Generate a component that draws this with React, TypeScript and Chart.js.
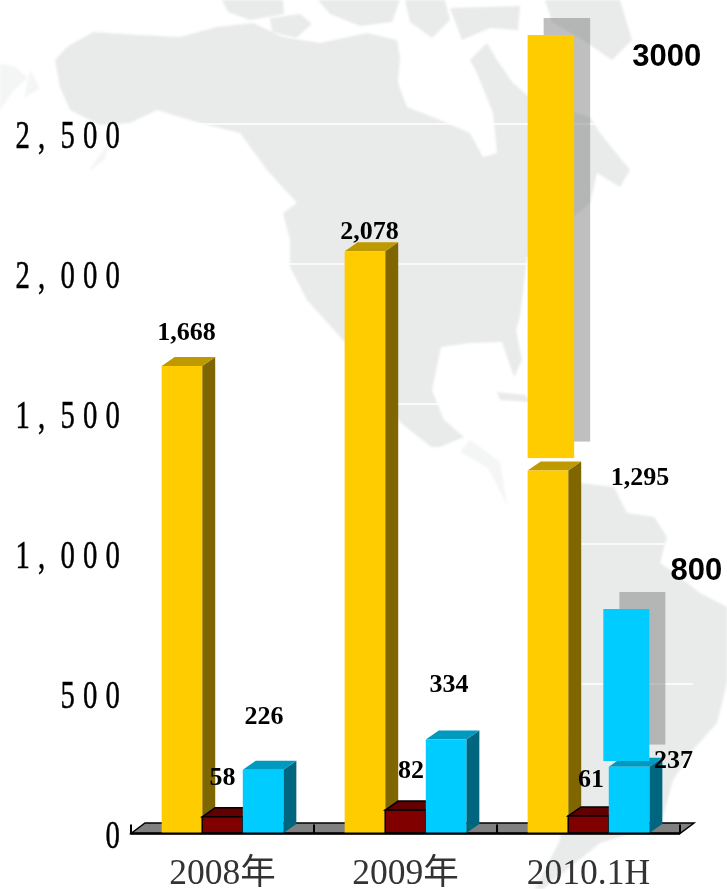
import React, { useEffect, useRef } from "react";
import { Chart, registerables } from "chart.js";

Chart.register(...registerables);

const categories = ["2008年", "2009年", "2010.1H"];
const goldValues = [1668, 2078, 1295];
const maroonValues = [58, 82, 61];
const cyanValues = [226, 334, 237];
const valueLabels = [
  ["1,668", "2,078", "1,295"],
  ["58", "82", "61"],
  ["226", "334", "237"],
];
const yTickValues = [0, 500, 1000, 1500, 2000, 2500];
const yTickLabels = ["0", "500", "1, 000", "1, 500", "2, 000", "2, 500"];
// offset of each value label from the top centre of its bar
const labelOffsets = [
  [[4.5, -33], [4.5, -19], [92, 8]],
  [[0, -38], [5.5, -39], [2.5, -36]],
  [[1, -52], [3, -54.5], [44.5, -5]],
];
const goldTargetLow = 1339;
const goldTargetHigh = 2850;
const goldTargetLabel = "3000";
const cyanTargetLow = 257;
const cyanTargetHigh = 800;
const cyanTargetLabel = "800";

const faces = [
  { side: "#806600", top: "#BF9900" },
  { side: "#5a0000", top: "#600000", outline: true },
  { side: "#006680", top: "#0099BF" },
];
const DX = 13;
const DY = -9;

const mapPaths = [
  // North America
  "M55 60 L67 47 L93 32 L140 35 L180 37 L217 27 L253 23 L283 37 L320 43 L367 33 L397 40 L400 57 L398 83 L407 107 L440 120 L470 133 L483 157 L497 153 L493 113 L477 73 L470 60 L487 43 L497 60 L513 83 L533 100 L590 117 L600 133 L630 170 L620 187 L597 173 L590 203 L573 217 L527 257 L520 317 L516 330 L522 360 L514 377 L502 342 L470 343 L441 347 L432 390 L444 420 L464 437 L440 447 L431 447 L401 423 L343 340 L307 300 L290 267 L290 240 L283 213 L297 203 L267 170 L240 133 L200 123 L157 110 L130 123 L100 125 L70 110 L60 87 Z",
  // Arctic islands
  "M222 0 L283 0 L284 14 L250 20 L228 12 Z",
  "M270 18 L300 14 L312 24 L296 38 L272 32 Z",
  "M318 0 L400 0 L392 22 L360 26 L330 14 Z",
  "M405 0 L445 0 L450 20 L432 38 L410 22 Z",
  "M450 8 L520 6 L518 30 L490 28 L462 40 Z",
  "M545 0 L620 0 L632 40 L612 60 L580 38 L552 22 Z",
  // Cuba
  "M497 392 L525 395 L530 402 L500 400 Z",
  // South America
  "M570 490 L581 483 L614 487 L627 513 L654 517 L667 537 L660 563 L673 572 L700 593 L727 607 L727 683 L717 723 L693 750 L673 780 L663 817 L633 833 L600 843 L567 870 L543 889 L535 889 L560 840 L570 700 Z",
];
const faintPaths = [
  "M0 64 L14 66 L28 78 L14 90 L0 110 Z",
  "M112 138 L96 160 L88 172 L104 160 Z",
  "M30 70 L40 88 L24 98 Z",
  "M470 440 L487 452 L500 462 L507 505 L488 468 L460 452 Z",
];

function App() {
  const ref = useRef<HTMLCanvasElement>(null);
  useEffect(() => {
    const decorPlugin = {
      id: "decor",
      beforeDraw(chart: any) {
        const { ctx, scales } = chart;
        const y = scales.y;
        const x = scales.x;
        ctx.save();
        ctx.fillStyle = "#ffffff";
        ctx.fillRect(0, 0, chart.width, chart.height);
        ctx.save();
        (ctx as any).filter = "blur(1.2px)";
        ctx.fillStyle = "#f4f5f5";
        faintPaths.forEach((d) => ctx.fill(new Path2D(d)));
        ctx.fillStyle = "#e9eaea";
        mapPaths.forEach((d) => ctx.fill(new Path2D(d)));
        ctx.restore();
        // back-wall grid, shifted by the 3D depth
        ctx.strokeStyle = "#ffffff";
        ctx.lineWidth = 1.5;
        yTickValues.forEach((v) => {
          if (v === 0) return;
          const py = y.getPixelForValue(v) + DY;
          ctx.beginPath();
          ctx.moveTo(x.left + DX, py);
          ctx.lineTo(x.right + DX, py);
          ctx.stroke();
        });
        // floor
        const by = y.getPixelForValue(0) + 0.5;
        ctx.fillStyle = "#808080";
        ctx.beginPath();
        ctx.moveTo(x.left, by);
        ctx.lineTo(x.right, by);
        ctx.lineTo(x.right + DX + 1, by + DY - 1.5);
        ctx.lineTo(x.left + DX + 1, by + DY - 1.5);
        ctx.closePath();
        ctx.fill();
        ctx.strokeStyle = "#000000";
        ctx.lineWidth = 1.5;
        ctx.stroke();
        ctx.lineWidth = 2;
        ctx.beginPath();
        ctx.moveTo(x.left, by - 9);
        ctx.lineTo(x.left, by);
        ctx.lineTo(x.right, by);
        ctx.stroke();
        const step = (x.right - x.left) / categories.length;
        for (let i = 1; i <= categories.length; i++) {
          ctx.beginPath();
          ctx.moveTo(x.left + step * i, by);
          ctx.lineTo(x.left + step * i, by + DY);
          ctx.stroke();
        }
        // value axis labels
        ctx.fillStyle = "#000000";
        ctx.strokeStyle = "#000000";
        ctx.lineWidth = 0.5;
        ctx.font = '41px "Liberation Serif"';
        ctx.textAlign = "right";
        ctx.textBaseline = "alphabetic";
        (ctx as any).letterSpacing = "11.64px";
        (ctx as any).wordSpacing = "-11.6px";
        yTickValues.forEach((v, i) => {
          ctx.save();
          ctx.translate(128.1, y.getPixelForValue(v) + 15);
          ctx.scale(0.7, 1);
          ctx.fillText(yTickLabels[i], 0, 0);
          ctx.strokeText(yTickLabels[i], 0, 0);
          ctx.restore();
        });
        ctx.restore();
      },
      beforeDatasetsDraw(chart: any) {
        const { ctx, scales } = chart;
        const y = scales.y;
        const zero = y.getPixelForValue(0);
        for (let d = 0; d < 3; d++) {
          const f = faces[d];
          chart.getDatasetMeta(d).data.forEach((bar: any) => {
            const l = bar.x - bar.width / 2;
            const r = bar.x + bar.width / 2;
            const t = bar.y;
            ctx.save();
            ctx.fillStyle = f.side;
            ctx.beginPath();
            ctx.moveTo(r, t);
            ctx.lineTo(r + DX, t + DY);
            ctx.lineTo(r + DX, zero + DY);
            ctx.lineTo(r, zero);
            ctx.closePath();
            ctx.fill();
            ctx.fillStyle = f.top;
            ctx.beginPath();
            ctx.moveTo(l, t);
            ctx.lineTo(l + DX, t + DY);
            ctx.lineTo(r + DX, t + DY);
            ctx.lineTo(r, t);
            ctx.closePath();
            ctx.fill();
            if (f.outline) {
              ctx.strokeStyle = "#000000";
              ctx.lineWidth = 1.5;
              ctx.stroke();
            }
            bar.draw(ctx);
            if (f.outline) {
              ctx.strokeStyle = "#000000";
              ctx.lineWidth = 1.5;
              ctx.strokeRect(l, t, bar.width, zero - t);
            }
            ctx.restore();
          });
        }
        // black base line in front of bars
        ctx.save();
        ctx.strokeStyle = "#000000";
        ctx.lineWidth = 2;
        ctx.beginPath();
        ctx.moveTo(scales.x.left, zero + 0.5);
        ctx.lineTo(scales.x.right, zero + 0.5);
        ctx.stroke();

        // target blocks with their offset shadows
        const last = categories.length - 1;
        const goldBar = chart.getDatasetMeta(0).data[last];
        const cyanBar = chart.getDatasetMeta(2).data[last];
        const goldL = goldBar.x - goldBar.width / 2;
        const cyanR = cyanBar.x + cyanBar.width / 2;
        const blocks = [
          { l: goldL, w: 46.5, lo: goldTargetLow, hi: goldTargetHigh, c: "#FFCC00" },
          { l: cyanR - 46, w: 46, lo: cyanTargetLow, hi: cyanTargetHigh, c: "#00CCFF" },
        ];
        blocks.forEach((b) => {
          const top = y.getPixelForValue(b.hi);
          const bot = y.getPixelForValue(b.lo);
          ctx.fillStyle = "rgba(128,128,128,0.5)";
          ctx.fillRect(b.l + 16, top - 17, b.w, bot - top + 0.5);
          ctx.fillStyle = b.c;
          ctx.fillRect(b.l, top, b.w, bot - top);
        });

        // value labels
        ctx.fillStyle = "#000000";
        ctx.font = 'bold 26px "Liberation Serif"';
        ctx.textAlign = "center";
        ctx.textBaseline = "middle";
        for (let d = 0; d < 3; d++) {
          chart.getDatasetMeta(d).data.forEach((bar: any, i: number) => {
            const [ox, oy] = labelOffsets[d][i];
            ctx.fillText(valueLabels[d][i], bar.x + ox, bar.y + oy);
          });
        }
        ctx.font = 'bold 31px "Liberation Sans"';
        ctx.fillText(goldTargetLabel, goldL + 139, y.getPixelForValue(goldTargetHigh) + 22);
        ctx.fillText(cyanTargetLabel, cyanR + 47, y.getPixelForValue(cyanTargetHigh) - 38);
        ctx.restore();
        return false;
      },
    };

    const chart = new Chart(ref.current!, {
      type: "bar",
      data: {
        labels: categories,
        datasets: [
          { label: "A", data: goldValues, backgroundColor: "#FFCC00" },
          { label: "B", data: maroonValues, backgroundColor: "#800000" },
          { label: "C", data: cyanValues, backgroundColor: "#00CCFF" },
        ],
      },
      options: {
        responsive: false,
        animation: false,
        layout: { padding: { top: 7, right: 47, left: 0, bottom: 0 } },
        datasets: { bar: { categoryPercentage: 0.665, barPercentage: 1 } },
        plugins: { legend: { display: false }, tooltip: { enabled: false } },
        scales: {
          x: {
            grid: { display: false },
            border: { display: false },
            afterFit: (s: any) => { s.height = 56; },
            ticks: {
              color: "#333333",
              maxRotation: 0,
              padding: 12,
              font: { family: '"Liberation Serif", "Noto Sans CJK SC"', size: 35.5 },
            },
          },
          y: {
            min: 0,
            max: 2950,
            grid: { display: false },
            border: { display: false },
            afterFit: (s: any) => { s.width = 131; },
            ticks: { stepSize: 500, display: false },
          },
        },
      },
      plugins: [decorPlugin],
    } as any);
    return () => chart.destroy();
  }, []);
  return (
    <canvas
      ref={ref}
      width={727}
      height={889}
      style={{ position: "absolute", left: 0, top: 0, display: "block", width: 727, height: 889 }}
    />
  );
}

export default App;
